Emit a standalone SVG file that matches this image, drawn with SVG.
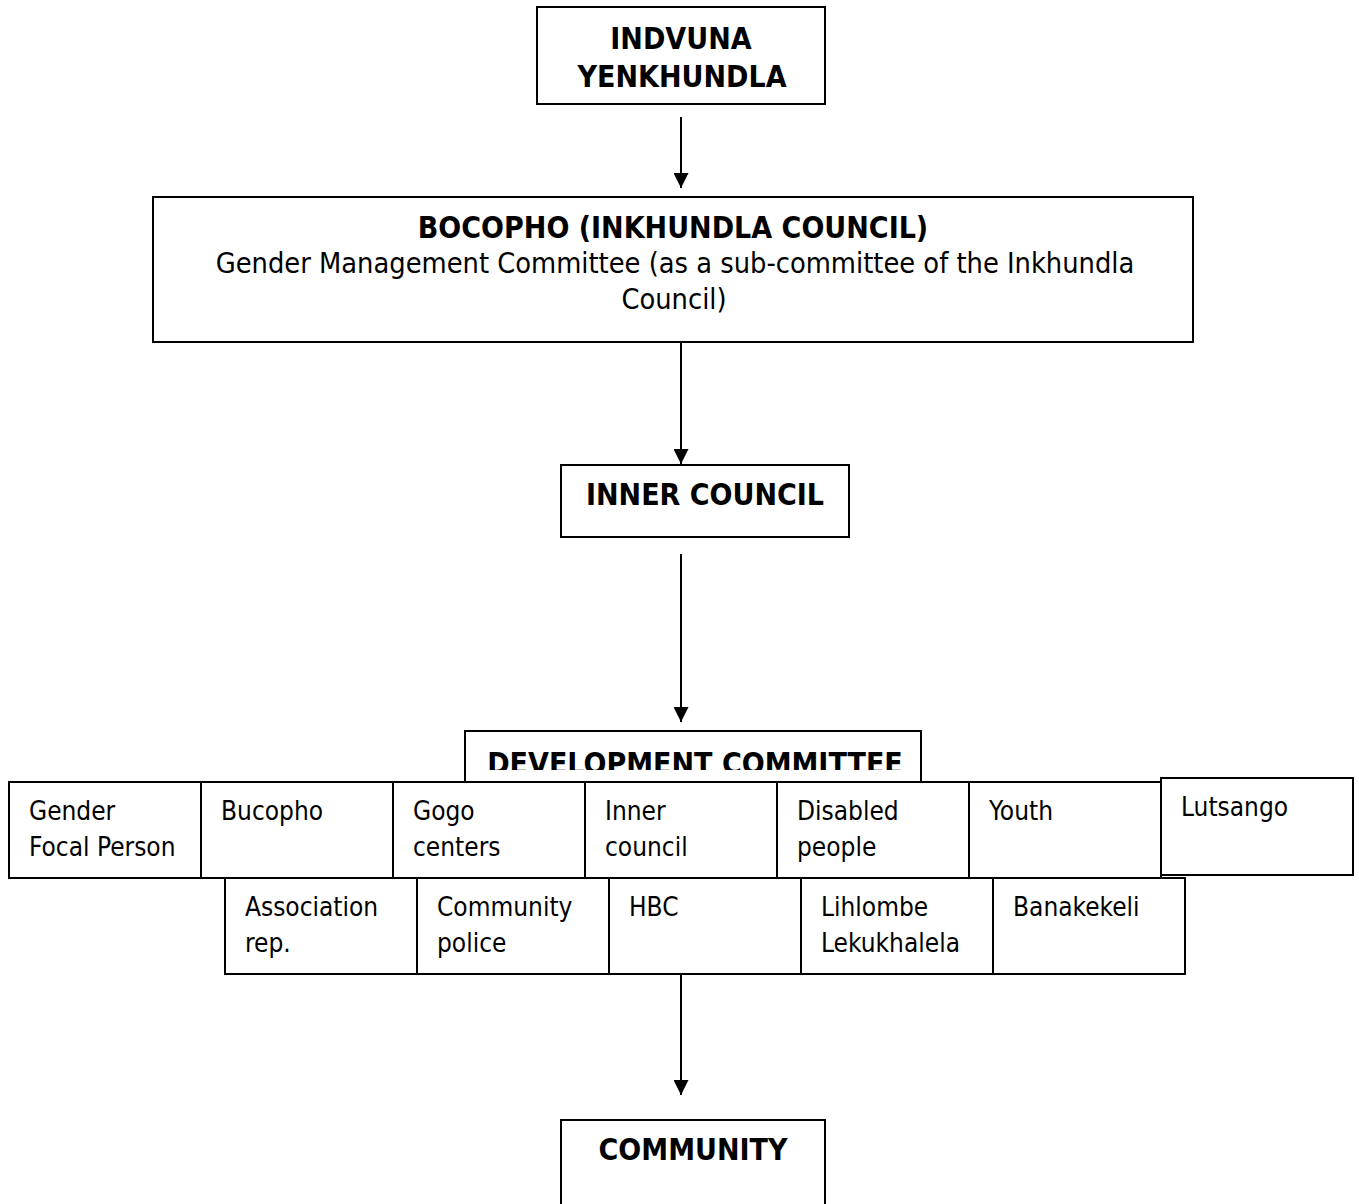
<svg xmlns="http://www.w3.org/2000/svg" width="1359" height="1204" viewBox="0 0 1359 1204">
<style>
.box{fill:#fff;stroke:#000;stroke-width:2}
.b{font-family:"DejaVu Sans Condensed","DejaVu Sans",sans-serif;font-weight:bold;font-size:30px;fill:#000;text-anchor:middle}
.r{font-family:"DejaVu Sans Condensed","DejaVu Sans",sans-serif;font-size:26px;fill:#000}
.big{font-size:28.7px;text-anchor:middle}
.conn{stroke:#000;stroke-width:2;fill:none}
</style>
<defs>
<marker id="ah" markerWidth="15" markerHeight="15" refX="15" refY="7.5" orient="auto" markerUnits="userSpaceOnUse" viewBox="0 0 15 15">
<path d="M0,0 L15,7.5 L0,15 Z" fill="#000"/>
</marker>
<clipPath id="devclip"><rect x="465" y="731" width="456" height="39"/></clipPath>
</defs>
<g id="connectors">
<line class="conn" x1="681" y1="117" x2="681" y2="188" marker-end="url(#ah)"/>
<line class="conn" x1="681" y1="342" x2="681" y2="464" marker-end="url(#ah)"/>
<line class="conn" x1="681" y1="554" x2="681" y2="722" marker-end="url(#ah)"/>
<line class="conn" x1="681" y1="974" x2="681" y2="1095" marker-end="url(#ah)"/>
</g>
<g id="indvuna">
<rect class="box" x="537" y="7" width="288" height="97"/>
<text class="b" x="681" y="49">INDVUNA</text>
<text class="b" x="682" y="87">YENKHUNDLA</text>
</g>
<g id="bocopho">
<rect class="box" x="153" y="197" width="1040" height="145"/>
<text class="b" x="673" y="238">BOCOPHO (INKHUNDLA COUNCIL)</text>
<text class="r big" x="675" y="273">Gender Management Committee (as a sub-committee of the Inkhundla</text>
<text class="r big" x="674" y="309">Council)</text>
</g>
<g id="inner-council">
<rect class="box" x="561" y="465" width="288" height="72"/>
<text class="b" x="705" y="505">INNER COUNCIL</text>
</g>
<g id="development-committee">
<rect class="box" x="465" y="731" width="456" height="51"/>
<text class="b" x="695" y="774" clip-path="url(#devclip)">DEVELOPMENT COMMITTEE</text>
</g>
<g id="gender-focal-person">
<rect class="box" x="9" y="782" width="192" height="96"/>
<text class="r" x="29" y="820">Gender</text>
<text class="r" x="29" y="856">Focal Person</text>
</g>
<g id="bucopho">
<rect class="box" x="201" y="782" width="192" height="96"/>
<text class="r" x="221" y="820">Bucopho</text>
</g>
<g id="gogo-centers">
<rect class="box" x="393" y="782" width="192" height="96"/>
<text class="r" x="413" y="820">Gogo</text>
<text class="r" x="413" y="856">centers</text>
</g>
<g id="inner-council-member">
<rect class="box" x="585" y="782" width="192" height="96"/>
<text class="r" x="605" y="820">Inner</text>
<text class="r" x="605" y="856">council</text>
</g>
<g id="disabled-people">
<rect class="box" x="777" y="782" width="192" height="96"/>
<text class="r" x="797" y="820">Disabled</text>
<text class="r" x="797" y="856">people</text>
</g>
<g id="youth">
<rect class="box" x="969" y="782" width="192" height="96"/>
<text class="r" x="989" y="820">Youth</text>
</g>
<g id="lutsango">
<rect class="box" x="1161" y="778" width="192" height="97"/>
<text class="r" x="1181" y="816">Lutsango</text>
</g>
<g id="association-rep">
<rect class="box" x="225" y="878" width="192" height="96"/>
<text class="r" x="245" y="916">Association</text>
<text class="r" x="245" y="952">rep.</text>
</g>
<g id="community-police">
<rect class="box" x="417" y="878" width="192" height="96"/>
<text class="r" x="437" y="916">Community</text>
<text class="r" x="437" y="952">police</text>
</g>
<g id="hbc">
<rect class="box" x="609" y="878" width="192" height="96"/>
<text class="r" x="629" y="916">HBC</text>
</g>
<g id="lihlombe-lekukhalela">
<rect class="box" x="801" y="878" width="192" height="96"/>
<text class="r" x="821" y="916">Lihlombe</text>
<text class="r" x="821" y="952">Lekukhalela</text>
</g>
<g id="banakekeli">
<rect class="box" x="993" y="878" width="192" height="96"/>
<text class="r" x="1013" y="916">Banakekeli</text>
</g>
<g id="community">
<rect class="box" x="561" y="1120" width="264" height="90"/>
<text class="b" x="693" y="1160">COMMUNITY</text>
</g>
</svg>
